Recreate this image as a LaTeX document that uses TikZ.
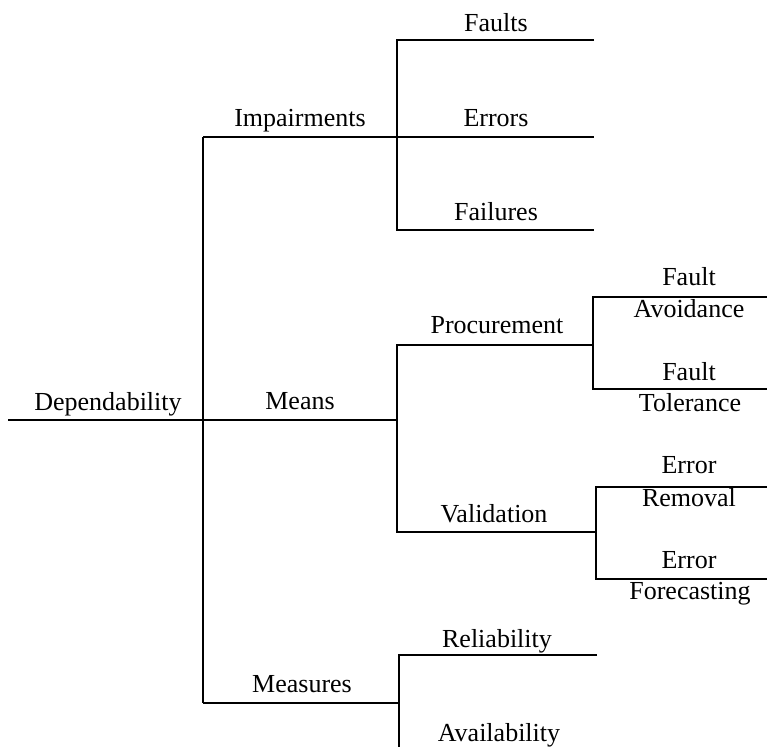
\documentclass[tikz,border=0pt]{standalone}
\usepackage{fontspec}
\setmainfont{Liberation Serif}
\usetikzlibrary{positioning}

\tikzset{branch/.style={line width=1.8pt},
         lbl/.style={font=\fontsize{26}{30}\selectfont, anchor=base, inner sep=0pt}}

\begin{document}
\begin{tikzpicture}[x=1pt,y=-1pt]
\useasboundingbox (0,0) rectangle (767,747);
% junctions of the tree
\coordinate (root) at (8,420);
\coordinate (trunkImp) at (203,137);
\coordinate (trunkMeans) at (203,420);
\coordinate (trunkMeas) at (203,703);
\coordinate (impTop) at (397,40);
\coordinate (impMid) at (397,137);
\coordinate (impBot) at (397,230);
\coordinate (faultsEnd) at (594,40);
\coordinate (errorsEnd) at (594,137);
\coordinate (failuresEnd) at (594,230);
\coordinate (meansJ) at (397,420);
\coordinate (procJ) at (397,345);
\coordinate (valJ) at (397,532);
\coordinate (procEnd) at (593,345);
\coordinate (valEnd) at (596,532);
\coordinate (avoidJ) at (593,297);
\coordinate (tolJ) at (593,389);
\coordinate (avoidEnd) at (767,297);
\coordinate (tolEnd) at (767,389);
\coordinate (remJ) at (596,487);
\coordinate (foreJ) at (596,579);
\coordinate (remEnd) at (767,487);
\coordinate (foreEnd) at (767,579);
\coordinate (measJ) at (399,703);
\coordinate (relJ) at (399,655);
\coordinate (relEnd) at (597,655);
\coordinate (availEnd) at (399,747);
% connectors
\draw[branch] (root) -- (trunkMeans);
\draw[branch] (trunkImp) -- (trunkMeas);
\draw[branch] (trunkImp) -- (impMid) -- (errorsEnd);
\draw[branch] (faultsEnd) -- (impTop) -- (impBot) -- (failuresEnd);
\draw[branch] (trunkMeans) -- (meansJ);
\draw[branch] (procEnd) -- (procJ) -- (valJ) -- (valEnd);
\draw[branch] (avoidEnd) -- (avoidJ) -- (tolJ) -- (tolEnd);
\draw[branch] (remEnd) -- (remJ) -- (foreJ) -- (foreEnd);
\draw[branch] (trunkMeas) -- (measJ);
\draw[branch] (relEnd) -- (relJ) -- (availEnd);
% labels
\node[lbl] (dependability) at (108,410) {Dependability};
\node[lbl] (impairments) at (300,126) {Impairments};
\node[lbl] (means) at (300,409) {Means};
\node[lbl] (measures) at (302,692) {Measures};
\node[lbl] (faults) at (496,31) {Faults};
\node[lbl] (errors) at (496,126) {Errors};
\node[lbl] (failures) at (496,220) {Failures};
\node[lbl] (procurement) at (497,333) {Procurement};
\node[lbl] (validation) at (494,522) {Validation};
\node[lbl] (reliability) at (497,647) {Reliability};
\node[lbl] (availability) at (499,741) {Availability};
\node[lbl] (faultA) at (689,285) {Fault};
\node[lbl] (avoidance) at (689,317) {Avoidance};
\node[lbl] (faultT) at (689,380) {Fault};
\node[lbl] (tolerance) at (690,411) {Tolerance};
\node[lbl] (errorR) at (689,473) {Error};
\node[lbl] (removal) at (689,506) {Removal};
\node[lbl] (errorF) at (689,568) {Error};
\node[lbl] (forecasting) at (690,599) {Forecasting};
\end{tikzpicture}
\end{document}
